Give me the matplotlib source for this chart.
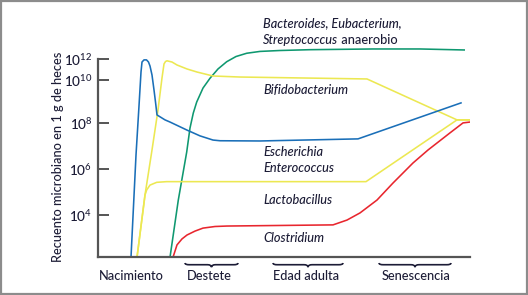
import numpy as np
import matplotlib
matplotlib.use("Agg")
import matplotlib.pyplot as plt
from matplotlib.path import Path
from matplotlib.patches import PathPatch, Rectangle
import matplotlib.transforms as mtransforms

plt.rcParams['font.family'] = ['Lato', 'DejaVu Sans']
plt.rcParams['font.weight'] = 'medium'
plt.rcParams['mathtext.fontset'] = 'custom'
plt.rcParams['mathtext.rm'] = 'Lato:medium'
plt.rcParams['mathtext.it'] = 'Lato:italic'

# ---------------- data: time (arbitrary units), log10 microbes per g faeces
esch_t = [33, 38, 41, 43, 44, 46, 48.5, 50.5, 52, 54, 56, 57.5, 59, 67, 72, 89, 102, 115, 122, 162, 260, 363]
esch_v = [2.16, 6.60, 8.78, 10.75, 11.73, 11.94, 11.94, 11.73, 11.34, 10.46, 9.52, 8.96, 8.36, 8.13, 8.03,
          7.68, 7.43, 7.25, 7.22, 7.21, 7.30, 8.92]

bifido_t = [39, 47, 54, 60, 64, 66, 67.5, 69, 74, 79, 89, 99, 115, 142, 269, 359, 372]
bifido_v = [2.16, 4.87, 6.82, 8.59, 10.17, 11.54, 11.78, 11.85, 11.73, 11.44, 11.05, 10.75, 10.36, 10.26,
            10.07, 8.13, 8.13]

lacto_t = [39, 47, 48.7, 52, 58.7, 68.7, 268, 359, 372]
lacto_v = [2.16, 4.87, 5.09, 5.30, 5.42, 5.45, 5.45, 8.13, 8.13]

bact_t = [72, 80.3, 88.7, 92, 95.3, 98.7, 105, 112, 120, 128.7, 138, 148.7, 162, 182, 212, 275, 322, 367]
bact_v = [2.16, 4.65, 6.73, 7.77, 8.45, 8.96, 9.61, 10.14, 11.05, 11.76, 12.27, 12.59, 12.77, 12.86,
          12.94, 13.01, 13.01, 12.91]

clos_t = [75, 79, 84, 89, 97, 105, 117, 129, 235, 249, 262, 279, 295, 315, 330, 352, 365, 372]
clos_v = [2.16, 2.70, 2.96, 3.13, 3.30, 3.43, 3.50, 3.52, 3.57, 3.78, 4.09, 4.65, 5.39, 6.26, 6.82,
          7.56, 7.99, 8.03]

ytick_exp = [4, 6, 8, 10, 12]
ytick_labels = [r'$10^{%d}$' % e for e in ytick_exp]

stage_names = ['Nacimiento', 'Destete', 'Edad adulta', 'Senescencia']
stage_centers = [33, 111, 208, 318]
brace_spans = [None, (87, 140), (175, 245), (281, 353)]

# ---------------- style
C_BLUE = '#1a6fb8'
C_YEL = '#ece852'
C_GREEN = '#0f9870'
C_RED = '#e8262e'
C_TXT = '#1c1c36'
C_AX = '#555555'
FS = 9.2

fig = plt.figure(figsize=(5.28, 2.95), dpi=100)
fig.patch.set_facecolor('white')
ax = fig.add_axes([98 / 528, 37.7 / 295, 372 / 528, 247.3 / 295])

# non-uniform vertical scale as in the original figure
L = np.array([0, 4, 6, 8, 10, 12, 20])
P = np.array([-49.7, 42.3, 88.3, 134.6, 177.6, 198.0, 279.6])


def fwd(v):
    return np.interp(np.asarray(v, dtype=float), L, P)


def inv(p):
    return np.interp(np.asarray(p, dtype=float), P, L)


ax.set_yscale('function', functions=(fwd, inv))
ax.set_xlim(0, 372)
ax.set_ylim(2.161, 16.83)

lw = 1.15
ax.plot(bact_t, bact_v, color=C_GREEN, lw=lw, solid_capstyle='butt')
ax.plot(bifido_t, bifido_v, color=C_YEL, lw=lw, solid_joinstyle='round')
ax.plot(lacto_t, lacto_v, color=C_YEL, lw=lw, solid_joinstyle='round')
ax.plot(esch_t, esch_v, color=C_BLUE, lw=lw, solid_joinstyle='round')
ax.plot(clos_t, clos_v, color=C_RED, lw=lw, solid_joinstyle='round')

for s in ['top', 'right']:
    ax.spines[s].set_visible(False)
for s in ['left', 'bottom']:
    ax.spines[s].set_color(C_AX)
    ax.spines[s].set_linewidth(1.6)
ax.spines['left'].set_bounds(2.161, 12)

ax.set_yticks(ytick_exp)
ax.set_yticklabels(ytick_labels)
ax.yaxis.set_minor_locator(matplotlib.ticker.NullLocator())
ax.tick_params(axis='y', direction='in', length=8, width=1.4, color=C_AX, pad=4,
               labelsize=9.8, labelcolor=C_TXT)
ax.set_xticks([])

# stage labels and braces under the time axis
trans = mtransforms.blended_transform_factory(ax.transData, ax.transAxes)
for name, cx in zip(stage_names, stage_centers):
    ax.text(cx, -0.076, name, transform=trans, ha='center', va='center',
            fontsize=FS, color=C_TXT, clip_on=False)

y_end, y_mid, y_tip = -0.023, -0.030, -0.040
for span in brace_spans:
    if span is None:
        continue
    x0, x1 = span
    xc = 0.5 * (x0 + x1)
    q = 4
    verts = [(x0, y_end), (x0, y_mid), (x0 + q, y_mid),
             (xc - q, y_mid), (xc, y_mid), (xc, y_tip),
             (xc, y_mid), (xc + q, y_mid),
             (x1 - q, y_mid), (x1, y_mid), (x1, y_end)]
    codes = [Path.MOVETO, Path.CURVE3, Path.CURVE3,
             Path.LINETO, Path.CURVE3, Path.CURVE3,
             Path.CURVE3, Path.CURVE3,
             Path.LINETO, Path.CURVE3, Path.CURVE3]
    ax.add_patch(PathPatch(Path(verts, codes), transform=trans, fill=False,
                           edgecolor=C_TXT, lw=1.2, clip_on=False))

# y label
fig.text(58 / 528, 1 - 157 / 295, 'Recuento microbiano en 1 g de heces', rotation=90,
         ha='center', va='center', fontsize=FS, color=C_TXT)


# series labels
def ftxt(x, y, s, **kw):
    return fig.text(x / 528, 1 - y / 295, s, ha='left', va='center', fontsize=FS,
                    color=C_TXT, **kw)


ftxt(263, 23, 'Bacteroides, Eubacterium,', style='italic')
t1 = ftxt(263, 40, 'Streptococcus', style='italic')
ax.annotate(' anaerobio', xy=(1, 0), xycoords=t1, ha='left', va='bottom',
            fontsize=FS, color=C_TXT, annotation_clip=False)
ftxt(263, 90, 'Bifidobacterium', style='italic')
ftxt(263, 152, 'Escherichia', style='italic')
ftxt(263, 168, 'Enterococcus', style='italic')
ftxt(263, 200, 'Lactobacillus', style='italic')
ftxt(263, 238, 'Clostridium', style='italic')

# grey frame around the figure
fig.patches.append(Rectangle((0.001, 0.002), 0.997, 0.995, transform=fig.transFigure,
                             fill=False, edgecolor='#8c8c8c', lw=1.6))

fig.savefig('out.png', dpi=100, facecolor='white')
